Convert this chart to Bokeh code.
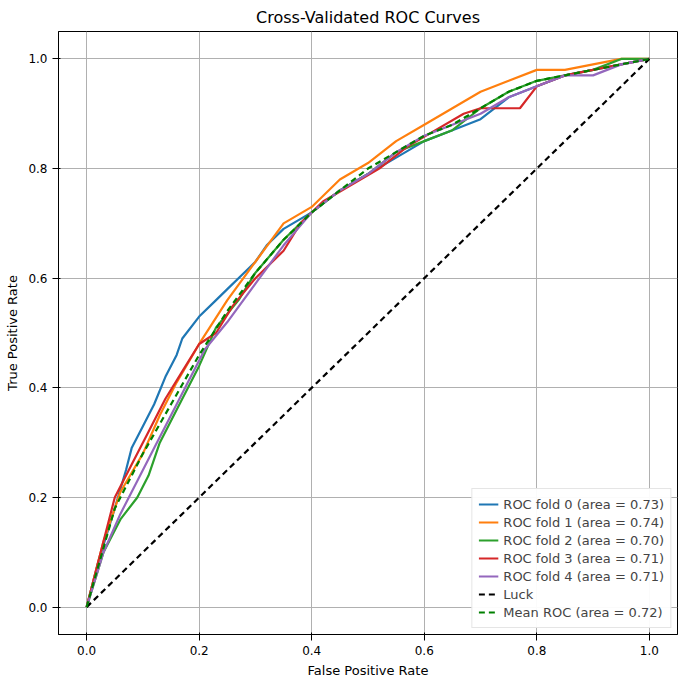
from bokeh.plotting import figure
from bokeh.models import Range1d, FixedTicker, Legend
from bokeh.embed import file_html
from bokeh.resources import INLINE

fold0_x = [0, 0.02, 0.05, 0.07, 0.08, 0.1, 0.12, 0.14, 0.16, 0.17, 0.2, 0.23, 0.25, 0.28, 0.3, 0.32, 0.35, 0.4, 0.45, 0.5, 0.55, 0.6, 0.65, 0.7, 0.75, 0.8, 0.85, 0.9, 0.95, 1]
fold0_y = [0, 0.08, 0.18, 0.25, 0.29, 0.33, 0.37, 0.42, 0.46, 0.49, 0.53, 0.56, 0.58, 0.61, 0.63, 0.66, 0.69, 0.72, 0.76, 0.79, 0.82, 0.85, 0.87, 0.89, 0.93, 0.95, 0.97, 0.98, 0.99, 1]
fold1_x = [0, 0.03, 0.06, 0.1, 0.13, 0.16, 0.2, 0.25, 0.3, 0.35, 0.4, 0.45, 0.5, 0.55, 0.6, 0.65, 0.7, 0.75, 0.8, 0.85, 0.9, 0.95, 1]
fold1_y = [0, 0.12, 0.21, 0.28, 0.35, 0.41, 0.48, 0.56, 0.63, 0.70, 0.73, 0.78, 0.81, 0.85, 0.88, 0.91, 0.94, 0.96, 0.98, 0.98, 0.99, 1, 1]
fold2_x = [0, 0.03, 0.06, 0.09, 0.11, 0.13, 0.16, 0.2, 0.23, 0.27, 0.3, 0.35, 0.4, 0.45, 0.5, 0.55, 0.6, 0.65, 0.7, 0.75, 0.8, 0.85, 0.9, 0.95, 1]
fold2_y = [0, 0.1, 0.16, 0.2, 0.24, 0.3, 0.36, 0.44, 0.51, 0.56, 0.61, 0.67, 0.72, 0.76, 0.79, 0.83, 0.85, 0.87, 0.91, 0.94, 0.96, 0.97, 0.98, 1, 1]
fold3_x = [0, 0.03, 0.05, 0.08, 0.11, 0.14, 0.17, 0.2, 0.23, 0.26, 0.3, 0.35, 0.38, 0.42, 0.47, 0.52, 0.57, 0.62, 0.67, 0.7, 0.77, 0.8, 0.85, 0.9, 0.95, 1]
fold3_y = [0, 0.12, 0.2, 0.26, 0.32, 0.38, 0.43, 0.48, 0.5, 0.55, 0.6, 0.65, 0.7, 0.74, 0.77, 0.8, 0.84, 0.87, 0.9, 0.91, 0.91, 0.95, 0.97, 0.98, 0.99, 1]
fold4_x = [0, 0.03, 0.06, 0.09, 0.12, 0.15, 0.18, 0.21, 0.25, 0.3, 0.35, 0.4, 0.45, 0.5, 0.55, 0.6, 0.65, 0.7, 0.75, 0.8, 0.85, 0.9, 0.95, 1]
fold4_y = [0, 0.1, 0.17, 0.23, 0.29, 0.35, 0.41, 0.47, 0.52, 0.59, 0.66, 0.72, 0.76, 0.79, 0.83, 0.86, 0.88, 0.9, 0.93, 0.95, 0.97, 0.97, 0.99, 1]
mean_x = [0, 0.05, 0.1, 0.15, 0.2, 0.25, 0.3, 0.35, 0.4, 0.45, 0.5, 0.55, 0.6, 0.65, 0.7, 0.75, 0.8, 0.85, 0.9, 0.95, 1]
mean_y = [0, 0.18, 0.28, 0.37, 0.46, 0.54, 0.61, 0.67, 0.72, 0.76, 0.8, 0.83, 0.86, 0.88, 0.91, 0.94, 0.96, 0.97, 0.98, 0.99, 1]
fold_aucs = [0.73, 0.74, 0.70, 0.71, 0.71]
mean_auc = 0.72
colors = ["#1f77b4", "#ff7f0e", "#2ca02c", "#d62728", "#9467bd"]

p = figure(width=684, height=684, output_backend="svg", toolbar_location=None,
           title="Cross-Validated ROC Curves", x_range=Range1d(-0.05, 1.05), y_range=Range1d(-0.05, 1.05),
           min_border_left=58, min_border_right=7, min_border_top=29, min_border_bottom=50)
p.title.align = "center"
p.title.text_font_size = "16px"
p.title.text_font_style = "normal"
p.title.text_font = "DejaVu Sans"
p.title.text_color = "black"
p.outline_line_color = "black"
ticks = [0, 0.2, 0.4, 0.6, 0.8, 1.0]
for ax in (p.xaxis, p.yaxis):
    ax.ticker = FixedTicker(ticks=ticks)
    ax.minor_tick_line_color = None
    ax.major_label_text_font = "DejaVu Sans"
    ax.major_label_text_font_size = "12px"
    ax.major_label_text_color = "black"
    ax.axis_label_text_font = "DejaVu Sans"
    ax.axis_label_text_font_size = "13px"
    ax.axis_label_text_font_style = "normal"
    ax.axis_label_text_color = "black"
    ax.axis_line_color = "black"
    ax.major_tick_line_color = "black"
p.xaxis.axis_label = "False Positive Rate"
p.yaxis.axis_label = "True Positive Rate"
p.xaxis.major_label_overrides = {0: "0.0", 1: "1.0"}
p.yaxis.major_label_overrides = {0: "0.0", 1: "1.0"}
p.grid.grid_line_color = "#b0b0b0"
p.grid.grid_line_alpha = 1

items = []
xs = [fold0_x, fold1_x, fold2_x, fold3_x, fold4_x]
ys = [fold0_y, fold1_y, fold2_y, fold3_y, fold4_y]
for i in range(5):
    r = p.line(xs[i], ys[i], color=colors[i], line_width=2.2)
    items.append(("ROC fold %d (area = %.2f)" % (i, fold_aucs[i]), [r]))
r = p.line([0, 1], [0, 1], color="black", line_width=2.2, line_dash="6 4")
items.append(("Luck", [r]))
r = p.line(mean_x, mean_y, color="green", line_width=2.2, line_dash="6 4")
items.append(("Mean ROC (area = %.2f)" % mean_auc, [r]))

leg = Legend(items=items, location="bottom_right", label_text_font="DejaVu Sans",
             label_text_font_size="13px", spacing=0, padding=6, label_height=18,
             glyph_height=18, border_line_color="#cccccc", margin=6)
p.add_layout(leg)

open("out.html", "w").write(file_html(p, INLINE))
